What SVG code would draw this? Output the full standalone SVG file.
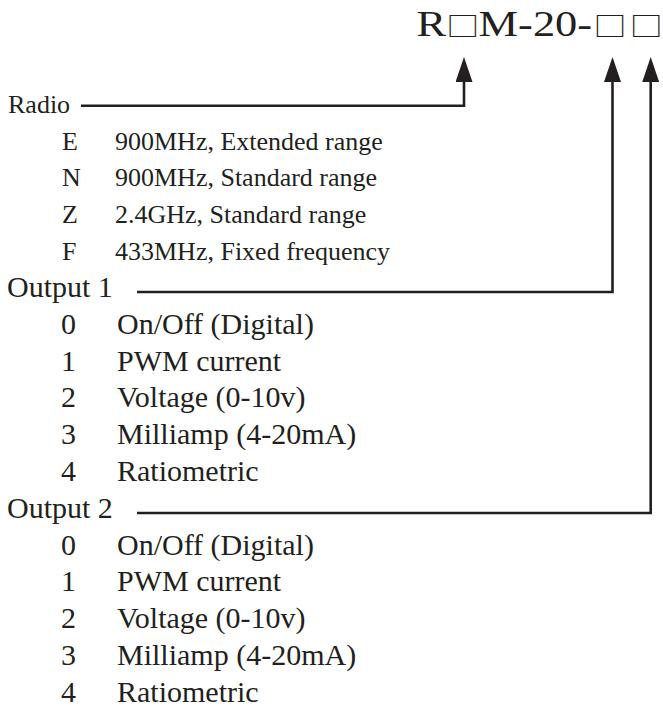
<svg xmlns="http://www.w3.org/2000/svg" width="663" height="709" viewBox="0 0 663 709">
<defs>
<style>
.t{font-family:"Liberation Serif","Times New Roman",serif;fill:#231f20}
.s{font-size:26px}
.o{font-size:30px}
.c{fill:none;stroke:#231f20;stroke-width:2.6}
.box{font-family:"Noto Sans CJK SC","DejaVu Sans",sans-serif;fill:#231f20}
</style>
<marker id="ah" viewBox="0 0 25 17" refX="0" refY="8.5" markerWidth="25" markerHeight="17" markerUnits="userSpaceOnUse" orient="auto">
<path d="M0,0 L25,8.5 L0,17 z" fill="#231f20"/>
</marker>
</defs>
<rect width="663" height="709" fill="#ffffff"/>
<g id="title" transform="translate(417,36) scale(1.27,1)">
<text class="t" font-size="35" x="-0.5" y="0">R<tspan class="box" x="23" font-size="26">□</tspan><tspan x="48.5" font-family="Liberation Serif">M-20-</tspan><tspan class="box" x="139" font-size="26">□</tspan><tspan class="box" x="167.5" font-size="26">□</tspan></text>
</g>
<g id="connectors">
<path class="c" d="M81,105.7 H464 V82" marker-end="url(#ah)"/>
<path class="c" d="M137,292 H612.5 V82" marker-end="url(#ah)"/>
<path class="c" d="M137,513 H650.7 V82" marker-end="url(#ah)"/>
</g>
<g id="radio">
<text class="t s" x="8" y="112.5">Radio</text>
<text class="t s" x="62" y="149.5">E</text><text class="t s" x="115" y="149.5">900MHz, Extended range</text>
<text class="t s" x="62" y="186.3">N</text><text class="t s" x="115" y="186.3">900MHz, Standard range</text>
<text class="t s" x="62" y="223">Z</text><text class="t s" x="115" y="223">2.4GHz, Standard range</text>
<text class="t s" x="62" y="260">F</text><text class="t s" x="115" y="260">433MHz, Fixed frequency</text>
</g>
<g id="output1">
<text class="t o" x="7" y="297">Output 1</text>
<text class="t o" x="61" y="333.8">0</text><text class="t o" x="117" y="333.8">On/Off (Digital)</text>
<text class="t o" x="61" y="370.6">1</text><text class="t o" x="117" y="370.6">PWM current</text>
<text class="t o" x="61" y="407.4">2</text><text class="t o" x="117" y="407.4">Voltage (0-10v)</text>
<text class="t o" x="61" y="444.2">3</text><text class="t o" x="117" y="444.2">Milliamp (4-20mA)</text>
<text class="t o" x="61" y="481">4</text><text class="t o" x="117" y="481">Ratiometric</text>
</g>
<g id="output2">
<text class="t o" x="7" y="517.8">Output 2</text>
<text class="t o" x="61" y="554.6">0</text><text class="t o" x="117" y="554.6">On/Off (Digital)</text>
<text class="t o" x="61" y="591.4">1</text><text class="t o" x="117" y="591.4">PWM current</text>
<text class="t o" x="61" y="628.2">2</text><text class="t o" x="117" y="628.2">Voltage (0-10v)</text>
<text class="t o" x="61" y="665">3</text><text class="t o" x="117" y="665">Milliamp (4-20mA)</text>
<text class="t o" x="61" y="701.8">4</text><text class="t o" x="117" y="701.8">Ratiometric</text>
</g>
</svg>
